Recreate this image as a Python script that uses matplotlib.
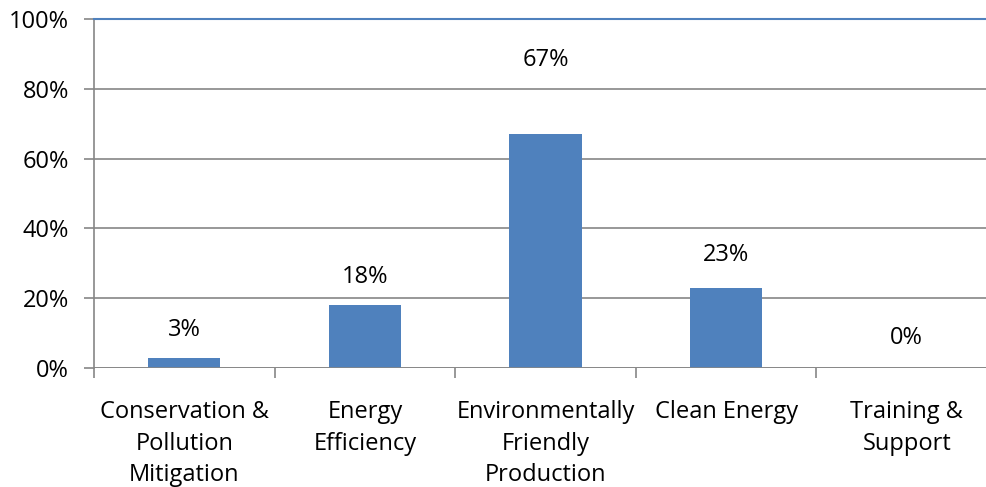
import numpy as np
import matplotlib.pyplot as plt
from matplotlib.ticker import PercentFormatter

plt.rcParams['font.family'] = ['Open Sans', 'DejaVu Sans']

# data
categories = ['Conservation &\nPollution\nMitigation', 'Energy\nEfficiency',
              'Environmentally\nFriendly\nProduction', 'Clean Energy', 'Training &\nSupport']
values = [3, 18, 67, 23, 0]
# where Excel put each data label (in % units)
label_pos = [10.9, 26.1, 88.3, 32.4, 8.6]

fs = 17

fig = plt.figure(figsize=(9.87, 4.87), dpi=100)
# plot area runs a bit past the right edge, like the original crop
ax = fig.add_axes([94 / 987, 1 - 368 / 487, 903 / 987, 349 / 487])

x = np.arange(len(categories))
ax.bar(x, values, width=0.4, color='#4F81BD', zorder=3)

for xi, v, p in zip(x, values, label_pos):
    ax.text(xi, p, f'{v}%', ha='center', va='center', fontsize=fs, color='black')

ax.set_xlim(-0.5, len(categories) - 0.5)
ax.set_ylim(0, 100)
ax.set_yticks(np.arange(0, 101, 20))
ax.yaxis.set_major_formatter(PercentFormatter(decimals=0))
ax.grid(axis='y', color='#868686', linewidth=1.2, zorder=0)

# x axis: ticks at category boundaries, labels in the middle
ax.set_xticks(np.arange(-0.5, len(categories) - 0.4, 1))
ax.set_xticklabels([])
ax.set_xticks(x, minor=True)
ax.set_xticklabels(categories, minor=True, fontsize=fs, linespacing=1.42)
ax.tick_params(axis='x', which='minor', length=0, pad=23)
ax.tick_params(axis='x', which='major', length=7, width=1.2, color='#868686')
ax.tick_params(axis='y', length=7, width=1.2, color='#868686', labelsize=fs, pad=11)

for s in ['right', 'bottom']:
    ax.spines[s].set_visible(False)
ax.spines['left'].set_color('#868686')
ax.spines['left'].set_linewidth(1.2)
ax.spines['top'].set_color('#4F81BD')
ax.spines['top'].set_linewidth(1.5)
ax.axhline(0, color='#868686', linewidth=1.2, zorder=4)

fig.savefig('out.png', dpi=100)
